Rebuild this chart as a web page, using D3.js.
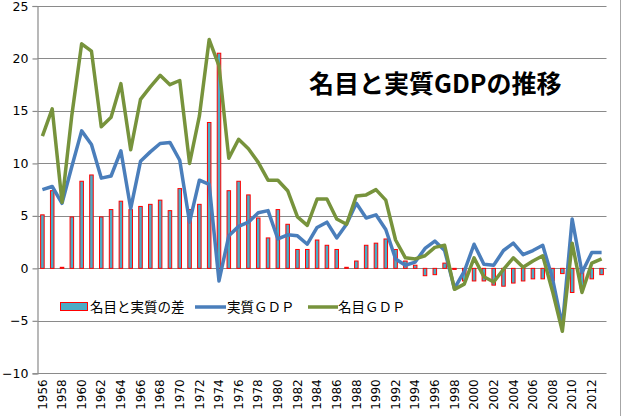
<!DOCTYPE html>
<html>
<head>
<meta charset="utf-8">
<script src="https://cdn.jsdelivr.net/npm/d3@7"></script>
<style>
  body { margin: 0; background: #fff; }
  svg { display: block; }
</style>
</head>
<body>
<svg></svg>
<script>
var svg = d3.select("svg");
var width = 624;
var height = 416;

var years = d3.range(1956, 2014);   // 1956 .. 2013

// 実質GDP (real growth, %)
var real = [7.5, 7.8, 6.2, 9.7, 13.1, 11.8, 8.6, 8.8, 11.2, 5.7,
            10.2, 11.1, 11.9, 12.0, 10.3, 4.4, 8.4, 8.0, -1.2, 3.1,
            4.0, 4.4, 5.3, 5.5, 2.8, 3.2, 3.1, 2.3, 3.9, 4.4,
            2.9, 4.2, 6.2, 4.8, 5.1, 3.7, 0.9, 0.3, 0.6, 1.9,
            2.6, 1.7, -1.9, -0.3, 2.3, 0.4, 0.3, 1.7, 2.4, 1.3,
            1.7, 2.2, -1.0, -5.5, 4.7, -0.4, 1.5, 1.5];

// 名目GDP (nominal growth, %)
var nominal = [12.6, 15.2, 6.3, 14.6, 21.4, 20.7, 13.5, 14.4, 17.6, 11.3,
               16.1, 17.3, 18.4, 17.5, 17.9, 10.0, 14.5, 21.8, 19.3, 10.5,
               12.3, 11.4, 10.1, 8.4, 8.4, 7.4, 4.9, 4.1, 6.6, 6.6,
               4.7, 4.2, 6.9, 7.0, 7.5, 6.5, 2.7, 1.0, 0.9, 1.2,
               2.0, 2.2, -2.0, -1.5, 1.0, -0.8, -1.3, -0.1, 1.0, 0.1,
               0.7, 1.2, -2.2, -6.0, 2.4, -2.3, 0.5, 0.9];

// 名目と実質の差 (nominal - real)
var diff = [5.1, 7.4, 0.1, 4.9, 8.3, 8.9, 4.9, 5.6, 6.4, 5.6,
            5.9, 6.1, 6.5, 5.5, 7.6, 5.6, 6.1, 13.9, 20.5, 7.4,
            8.3, 7.0, 4.8, 2.9, 5.6, 4.2, 1.8, 1.8, 2.7, 2.2,
            1.8, 0.1, 0.7, 2.2, 2.4, 2.8, 1.8, 0.7, 0.3, -0.7,
            -0.6, 0.5, -0.1, -1.2, -1.2, -1.2, -1.6, -1.7, -1.4, -1.2,
            -1.0, -1.0, -1.2, -0.5, -2.3, -1.9, -1.0, -0.6];

var yTicks = [-10, -5, 0, 5, 10, 15, 20, 25];
var seriesNames = ["名目と実質の差", "実質ＧＤＰ", "名目ＧＤＰ"];
var title = "名目と実質GDPの推移";

var blue = "#4a7ebb";
var green = "#77933c";
var barFill = "#4bacc6";
var gridColor = "#8a8a8a";

svg.attr("width", width).attr("height", height);

var plotLeft = 37.5, plotRight = 606.5, plotTop = 6, plotBottom = 373.3;

var x = d3.scaleBand()
  .domain(years)
  .range([plotLeft, plotRight]);
var y = d3.scaleLinear()
  .domain([-10, 25])
  .range([plotBottom, plotTop]);

// chart frame edge on the right
svg.append("line")
  .attr("x1", 620.5).attr("x2", 620.5)
  .attr("y1", 0).attr("y2", height)
  .attr("stroke", "#a6a6a6").attr("stroke-width", 1);

// gridlines
svg.append("g")
  .selectAll("line")
  .data(yTicks)
  .join("line")
    .attr("x1", plotLeft).attr("x2", plotRight)
    .attr("y1", d => Math.round(y(d)) + 0.5)
    .attr("y2", d => Math.round(y(d)) + 0.5)
    .attr("stroke", gridColor)
    .attr("stroke-width", 1.2);

// y axis
var yAxis = d3.axisLeft(y)
  .tickValues(yTicks)
  .tickSize(5)
  .tickPadding(4);
var gy = svg.append("g")
  .attr("transform", "translate(" + plotLeft + ",0)")
  .call(yAxis);
gy.select(".domain").attr("stroke", gridColor).attr("stroke-width", 1.2);
gy.selectAll(".tick line").attr("stroke", gridColor).attr("stroke-width", 1.2);
gy.selectAll(".tick text")
  .attr("fill", "#000")
  .style("font-family", "'DejaVu Sans', sans-serif")
  .style("font-size", "12.5px");

// x axis labels (every second year, rotated)
var xAxis = d3.axisBottom(x)
  .tickValues(years.filter(d => d % 2 === 0))
  .tickSize(0)
  .tickPadding(0);
var gx = svg.append("g")
  .attr("transform", "translate(0," + plotBottom + ")")
  .call(xAxis);
gx.select(".domain").remove();
gx.selectAll(".tick text")
  .attr("fill", "#000")
  .attr("transform", "rotate(-90)")
  .attr("x", -6)
  .attr("y", 0)
  .attr("dy", "0.35em")
  .style("text-anchor", "end")
  .style("font-family", "'DejaVu Sans', sans-serif")
  .style("font-size", "12px");

// bars: nominal - real
var bw = x.bandwidth() * 0.36;
svg.append("g")
  .selectAll("rect")
  .data(diff)
  .join("rect")
    .attr("x", (d, i) => x(years[i]) + (x.bandwidth() - bw) / 2)
    .attr("y", d => y(Math.max(0, d)))
    .attr("width", bw)
    .attr("height", d => Math.abs(y(d) - y(0)))
    .attr("fill", barFill)
    .attr("stroke", "#ff0000")
    .attr("stroke-width", 1);

var line = d3.line()
  .x((d, i) => x(years[i]) + x.bandwidth() / 2)
  .y(d => y(d));

svg.append("path")
  .attr("fill", "none")
  .attr("stroke", blue)
  .attr("stroke-width", 3.5)
  .attr("stroke-linejoin", "round")
  .attr("d", line(real));

svg.append("path")
  .attr("fill", "none")
  .attr("stroke", green)
  .attr("stroke-width", 3.5)
  .attr("stroke-linejoin", "round")
  .attr("d", line(nominal));

// title
svg.append("text")
  .attr("x", 309)
  .attr("y", 93)
  .style("font-family", "'Noto Sans CJK JP', sans-serif")
  .style("font-weight", "bold")
  .style("font-size", "25px")
  .attr("fill", "#000")
  .text(title);

// legend
var lg = svg.append("g")
  .style("font-family", "'Noto Sans CJK JP', sans-serif")
  .style("font-size", "13.5px");
var ly = 307;
lg.append("rect")
  .attr("x", 60.5).attr("y", ly - 4.5)
  .attr("width", 27).attr("height", 8)
  .attr("fill", barFill).attr("stroke", "#ff0000").attr("stroke-width", 1);
lg.append("text").attr("x", 90).attr("y", ly).attr("dy", "0.35em").text(seriesNames[0]);
lg.append("line")
  .attr("x1", 195).attr("x2", 226).attr("y1", ly).attr("y2", ly)
  .attr("stroke", blue).attr("stroke-width", 3.5);
lg.append("text").attr("x", 227).attr("y", ly).attr("dy", "0.35em").text(seriesNames[1]);
lg.append("line")
  .attr("x1", 308).attr("x2", 338).attr("y1", ly).attr("y2", ly)
  .attr("stroke", green).attr("stroke-width", 3.5);
lg.append("text").attr("x", 338).attr("y", ly).attr("dy", "0.35em").text(seriesNames[2]);
</script>
</body>
</html>
